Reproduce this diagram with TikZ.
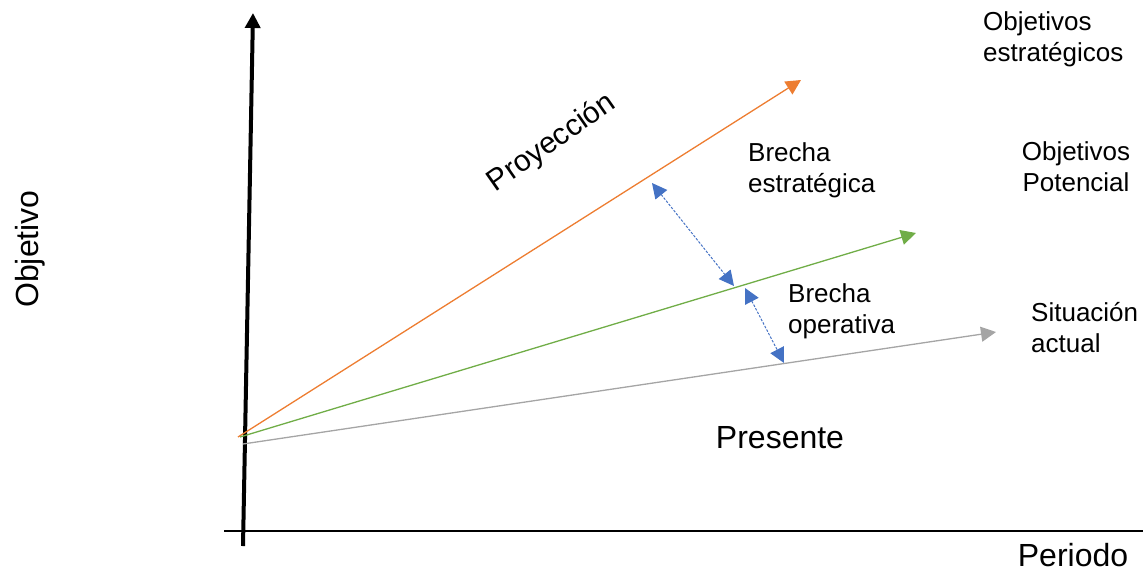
\documentclass[tikz,border=0pt]{standalone}
\usepackage{fontspec}
\setmainfont{Liberation Sans}
\usepackage{xcolor}
\usetikzlibrary{arrows.meta}
\definecolor{proy}{HTML}{ED7D31}
\definecolor{pot}{HTML}{70AD47}
\definecolor{actual}{HTML}{A5A5A5}
\definecolor{brecha}{HTML}{4472C4}
\tikzset{
  eje/.style={black,line width=4pt,-{Triangle[length=15pt,width=15pt]}},
  recta/.style={line width=1.3pt,-{Triangle[length=15pt,width=15pt]}},
  gap/.style={brecha,line width=1pt,dash pattern=on 2.5pt off 1.5pt,{Triangle[length=15pt,width=15pt]}-{Triangle[length=15pt,width=15pt]}},
  lbl/.style={inner sep=0pt,font=\fontsize{26}{31}\selectfont},
  big/.style={inner sep=0pt,font=\fontsize{32}{38}\selectfont}
}
\begin{document}
\begin{tikzpicture}[x=1pt,y=-1pt]
\useasboundingbox (0,0) rectangle (1143,571);
\coordinate (y0) at (243,546); \coordinate (y1) at (253,13);
\coordinate (x0) at (224,531); \coordinate (x1) at (1143,531);
\coordinate (o1) at (238,437); \coordinate (o2) at (801,80);
\coordinate (g1) at (240,437); \coordinate (g2) at (916,233);
\coordinate (s1) at (243,444); \coordinate (s2) at (996,332);
\coordinate (b1) at (652,183); \coordinate (b2) at (734,286);
\coordinate (b3) at (745,288); \coordinate (b4) at (784,363);
\draw[black,line width=2pt] (x0) -- (x1);
\draw[eje] (y0) -- (y1);
\draw[recta,proy] (o1) -- (o2);
\draw[recta,pot] (g1) -- (g2);
\draw[recta,actual] (s1) -- (s2);
\draw[gap] (b1) -- (b2);
\draw[gap] (b3) -- (b4);
\node[lbl,anchor=west,align=left] (estr) at (983,39) {Objetivos\\estratégicos};
\node[lbl,align=center] (pote) at (1076,167) {Objetivos\\Potencial};
\node[lbl,anchor=west,align=left] (situ) at (1031,328) {Situación\\actual};
\node[lbl,anchor=west,align=left] (be) at (748,170) {Brecha\\estratégica};
\node[lbl,anchor=west,align=left] (bo) at (788,311) {Brecha\\operativa};
\node[big] (pres) at (780,438) {Presente};
\node[big] (peri) at (1073,555) {Periodo};
\node[big,rotate=90] (objv) at (30,249) {Objetivo};
\node[inner sep=0pt,font=\fontsize{30}{36}\selectfont,rotate=35] (proyl) at (552,143) {Proyección};
\end{tikzpicture}
\end{document}
